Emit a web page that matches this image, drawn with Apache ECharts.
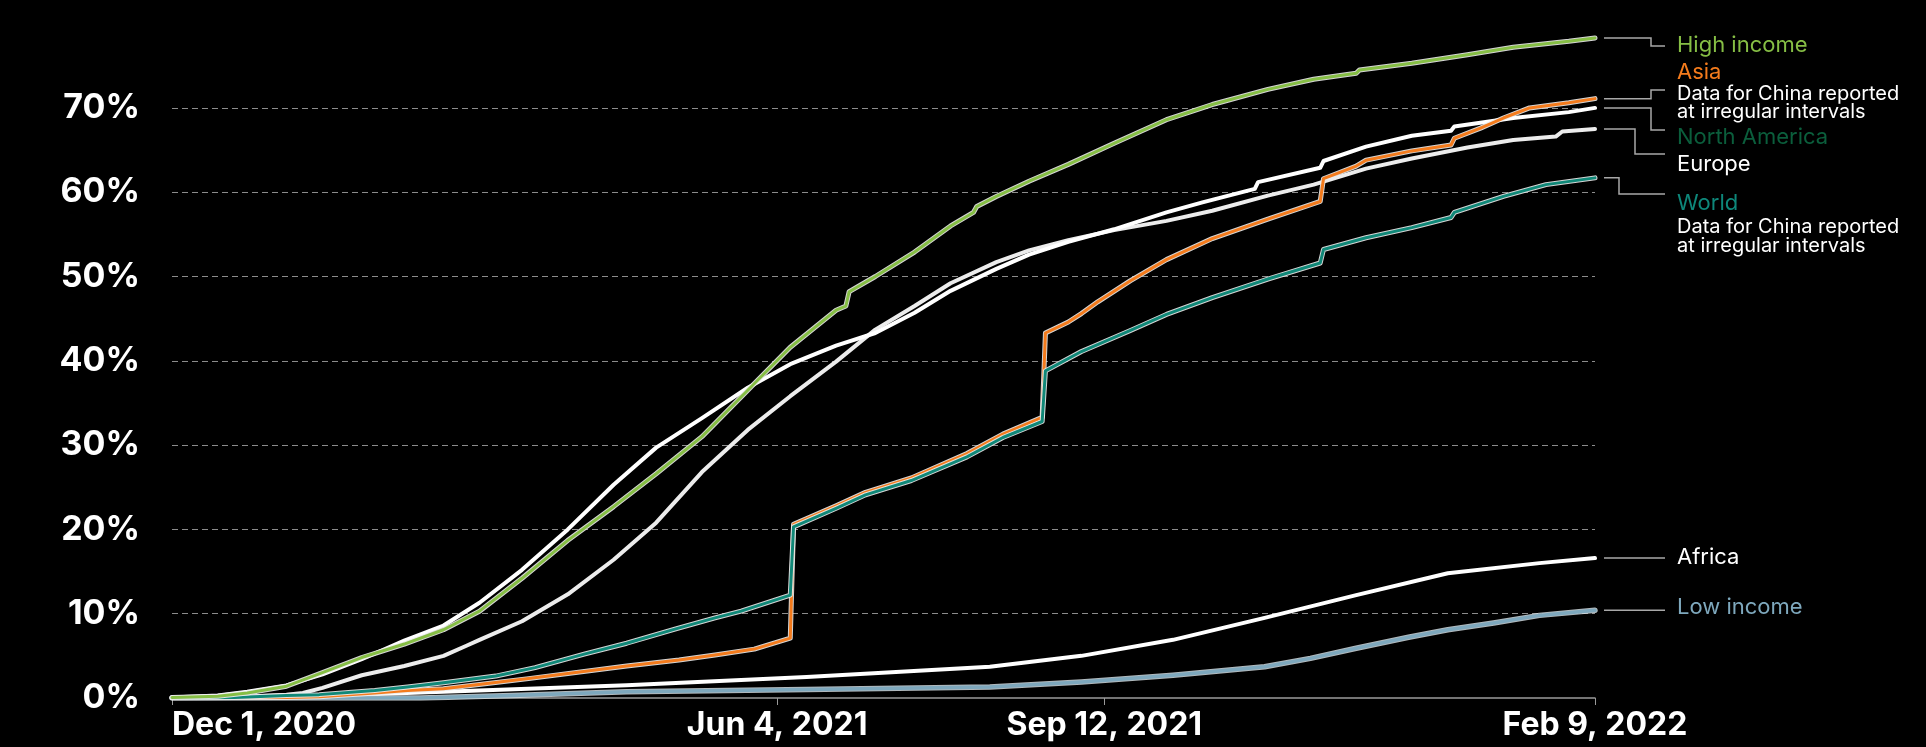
<!DOCTYPE html>
<html><head><meta charset="utf-8">
<script src="https://cdn.jsdelivr.net/npm/echarts@6/dist/echarts.min.js"></script>
<style>html,body{margin:0;padding:0;background:#000;overflow:hidden}#c{width:1926px;height:747px}</style>
</head><body><div id="c"></div>
<script>
// ---- data (date, % of population) ----
const highIncome = [['2020-12-01',0.05],['2020-12-15',0.2],['2020-12-24',0.6],['2021-01-05',1.4],['2021-01-16',3.0],['2021-01-28',4.8],['2021-02-10',6.4],['2021-02-22',8.1],['2021-03-05',10.3],['2021-03-18',14.2],['2021-04-01',18.7],['2021-04-15',22.7],['2021-04-28',26.6],['2021-05-12',31.0],['2021-05-26',36.5],['2021-06-08',41.6],['2021-06-22',46.0],['2021-06-25',46.5],['2021-06-26',48.2],['2021-07-04',50.0],['2021-07-16',52.9],['2021-07-27',56.0],['2021-08-03',57.6],['2021-08-04',58.3],['2021-08-10',59.5],['2021-08-20',61.3],['2021-09-01',63.3],['2021-09-15',65.8],['2021-10-01',68.6],['2021-10-15',70.4],['2021-11-01',72.2],['2021-11-15',73.4],['2021-11-28',74.1],['2021-11-29',74.5],['2021-12-15',75.3],['2022-01-01',76.3],['2022-01-15',77.2],['2022-02-01',77.9],['2022-02-09',78.3]];
const northAmerica = [['2020-12-01',0.05],['2020-12-15',0.3],['2020-12-24',0.75],['2021-01-05',1.5],['2021-01-16',2.8],['2021-01-28',4.6],['2021-02-10',6.8],['2021-02-22',8.6],['2021-03-05',11.3],['2021-03-18',15.2],['2021-04-01',20.0],['2021-04-15',25.3],['2021-04-28',29.7],['2021-05-12',33.2],['2021-05-26',36.8],['2021-06-08',39.6],['2021-06-22',41.8],['2021-07-04',43.3],['2021-07-16',45.7],['2021-07-27',48.3],['2021-08-10',50.9],['2021-08-20',52.6],['2021-09-01',54.1],['2021-09-15',55.6],['2021-10-01',57.6],['2021-10-12',58.8],['2021-10-28',60.4],['2021-10-29',61.2],['2021-11-17',62.9],['2021-11-18',63.7],['2021-12-01',65.4],['2021-12-15',66.7],['2021-12-27',67.3],['2021-12-28',67.8],['2022-01-15',68.8],['2022-02-01',69.5],['2022-02-09',70.0]];
const europe = [['2020-12-01',0.02],['2020-12-20',0.1],['2021-01-05',0.4],['2021-01-10',0.6],['2021-01-16',1.2],['2021-01-28',2.7],['2021-02-10',3.8],['2021-02-22',5.0],['2021-03-01',6.2],['2021-03-05',6.9],['2021-03-18',9.1],['2021-04-01',12.3],['2021-04-15',16.4],['2021-04-28',20.8],['2021-05-12',26.8],['2021-05-26',31.8],['2021-06-08',35.8],['2021-06-22',39.9],['2021-07-04',43.7],['2021-07-16',46.5],['2021-07-27',49.2],['2021-08-10',51.7],['2021-08-20',53.1],['2021-09-01',54.3],['2021-09-15',55.5],['2021-10-01',56.6],['2021-10-15',57.8],['2021-11-01',59.6],['2021-11-15',60.9],['2021-12-01',62.8],['2021-12-15',64.0],['2022-01-01',65.3],['2022-01-15',66.2],['2022-01-28',66.6],['2022-01-30',67.2],['2022-02-09',67.5]];
const asia = [['2020-12-01',0],['2021-01-05',0.05],['2021-01-15',0.15],['2021-02-01',0.6],['2021-02-11',0.9],['2021-02-22',1.1],['2021-03-20',2.3],['2021-04-19',3.8],['2021-05-05',4.5],['2021-05-16',5.1],['2021-05-28',5.8],['2021-06-08',7.1],['2021-06-09',20.6],['2021-06-22',22.8],['2021-07-01',24.4],['2021-07-15',26.1],['2021-08-01',29.0],['2021-08-12',31.3],['2021-08-24',33.3],['2021-08-25',43.3],['2021-09-01',44.6],['2021-09-05',45.6],['2021-09-10',47.0],['2021-09-20',49.5],['2021-10-01',52.0],['2021-10-15',54.5],['2021-11-01',56.8],['2021-11-17',58.9],['2021-11-18',61.6],['2021-11-28',63.1],['2021-12-01',63.8],['2021-12-15',64.9],['2021-12-27',65.6],['2021-12-28',66.4],['2022-01-05',67.6],['2022-01-12',68.8],['2022-01-20',70.0],['2022-02-01',70.6],['2022-02-09',71.1]];
const world = [['2020-12-01',0],['2020-12-20',0.05],['2021-01-05',0.3],['2021-01-15',0.4],['2021-02-01',0.9],['2021-02-11',1.3],['2021-02-22',1.8],['2021-03-10',2.6],['2021-03-22',3.6],['2021-04-06',5.2],['2021-04-19',6.5],['2021-05-04',8.2],['2021-05-16',9.5],['2021-05-24',10.3],['2021-06-08',12.2],['2021-06-09',20.3],['2021-06-22',22.5],['2021-07-01',24.1],['2021-07-15',25.8],['2021-08-01',28.6],['2021-08-12',30.9],['2021-08-24',32.8],['2021-08-25',38.8],['2021-09-05',41.1],['2021-09-20',43.6],['2021-10-01',45.5],['2021-10-15',47.5],['2021-11-01',49.7],['2021-11-17',51.6],['2021-11-18',53.2],['2021-12-01',54.6],['2021-12-15',55.8],['2021-12-27',57.0],['2021-12-28',57.6],['2022-01-12',59.5],['2022-01-25',60.9],['2022-02-09',61.7]];
const africa = [['2020-12-01',0],['2021-01-08',0.15],['2021-02-22',0.75],['2021-04-19',1.5],['2021-06-13',2.5],['2021-08-08',3.7],['2021-09-05',5.0],['2021-10-03',6.9],['2021-10-31',9.5],['2021-11-28',12.2],['2021-12-26',14.8],['2022-01-23',16.0],['2022-02-09',16.6]];
const lowIncome = [['2020-12-01',0],['2021-02-15',0],['2021-03-15',0.3],['2021-04-19',0.75],['2021-06-13',1.0],['2021-08-08',1.3],['2021-09-05',1.9],['2021-10-03',2.7],['2021-10-31',3.7],['2021-11-14',4.7],['2021-11-28',5.9],['2021-12-14',7.2],['2021-12-26',8.1],['2022-01-09',8.9],['2022-01-23',9.8],['2022-02-09',10.4]];

const xStart = '2020-12-01', xEnd = '2022-02-09';
const xTickDates = ['2020-12-01','2021-06-04','2021-09-12','2022-02-09'];
const yTicks = [0,10,20,30,40,50,60,70];
const MONTHS = ['Jan','Feb','Mar','Apr','May','Jun','Jul','Aug','Sep','Oct','Nov','Dec'];

function t(s){ const p = s.split('-').map(Number); return Date.UTC(p[0], p[1]-1, p[2]); }
function conv(arr){ return arr.map(d => [t(d[0]), d[1]]); }
function fmt(v){ const d = new Date(v); return MONTHS[d.getUTCMonth()] + ' ' + d.getUTCDate() + ', ' + d.getUTCFullYear(); }

const FONT = 'Inter, "Noto Sans", sans-serif';
const chart = echarts.init(document.getElementById('c'), null, {renderer:'canvas'});

function line(name, data, color, width, z){
  return {name, type:'line', data:conv(data), showSymbol:false, symbol:'none', z, silent:true,
          lineStyle:{color, width, join:'round', cap:'round'}, emphasis:{disabled:true}};
}
const HALO = 'rgba(235,235,235,0.9)';
const series = [
  line('Africa', africa, '#ffffff', 4, 2),
  line('Low income halo', lowIncome, 'rgba(220,230,235,0.8)', 5.5, 3),
  line('Low income', lowIncome, '#7ea8bd', 3.5, 4),
  line('Europe', europe, '#ececec', 4, 5),
  line('North America', northAmerica, '#ffffff', 4, 6),
  line('Asia halo', asia, HALO, 5, 7),
  line('Asia', asia, '#f47b1c', 3, 8),
  line('World halo', world, HALO, 5, 9),
  line('World', world, '#108878', 3, 10),
  line('High income halo', highIncome, HALO, 5, 11),
  line('High income', highIncome, '#86be45', 3, 12)
];

chart.setOption({
  backgroundColor:'#000',
  animation:false,
  grid:{left:172, right:331, top:23.6, bottom:49, containLabel:false},
  xAxis:{
    type:'value', min:t(xStart), max:t(xEnd), scale:true,
    axisLine:{show:true, onZero:false, lineStyle:{color:'#9a9a9a', width:1.5}},
    axisTick:{show:true, customValues:xTickDates.map(t), length:7, lineStyle:{color:'#9a9a9a', width:1}},
    axisLabel:{customValues:xTickDates.map(t), formatter:(v)=>fmt(v), color:'#fff', fontSize:32, fontWeight:700,
               fontFamily:FONT, margin:11, alignMinLabel:'left', showMinLabel:true, showMaxLabel:true, hideOverlap:false},
    splitLine:{show:false}
  },
  yAxis:{
    type:'value', min:0, max:80, interval:10,
    axisLine:{show:false}, axisTick:{show:false},
    axisLabel:{formatter:(v)=> yTicks.indexOf(v) >= 0 ? v + '%' : '', color:'#fff', fontSize:34, fontWeight:700,
               fontFamily:FONT, margin:32, showMaxLabel:false},
    splitLine:{show:true, showMinLine:false, showMaxLine:false, lineStyle:{color:'#8c8c8c', width:1, type:[6,4]}}
  },
  series
});

// ---- right-hand labels with elbow connectors (layout positions) ----
const labelDefs = [
  {data:highIncome, elbowX:1651, targetY:46},
  {data:asia, elbowX:1651, targetY:90},
  {data:northAmerica, elbowX:1651, targetY:130},
  {data:europe, elbowX:1635, targetY:154},
  {data:world, elbowX:1619, targetY:194},
  {data:africa, elbowX:null, targetY:null},
  {data:lowIncome, elbowX:null, targetY:null}
];
const texts = [
  {text:'High income', color:'#86be45', size:22, y:45.5},
  {text:'Asia', color:'#f47b1c', size:22, y:72},
  {text:'Data for China reported', color:'#ffffff', size:20, y:93.5},
  {text:'at irregular intervals', color:'#ffffff', size:20, y:112},
  {text:'North America', color:'#0b5e3c', size:22, y:137.5},
  {text:'Europe', color:'#ffffff', size:22, y:164},
  {text:'World', color:'#0e877a', size:22, y:203},
  {text:'Data for China reported', color:'#ffffff', size:20, y:227},
  {text:'at irregular intervals', color:'#ffffff', size:20, y:245.5},
  {text:'Africa', color:'#ffffff', size:22, y:557},
  {text:'Low income', color:'#7ea8bd', size:22, y:607}
];
const graphics = [];
labelDefs.forEach(d => {
  const last = d.data[d.data.length-1];
  const p = chart.convertToPixel({gridIndex:0}, [t(last[0]), last[1]]);
  const x0 = p[0] + 9, y0 = p[1];
  let pts;
  if (d.elbowX === null) pts = [[x0,y0],[1665,y0]];
  else pts = [[x0,y0],[d.elbowX,y0],[d.elbowX,d.targetY],[1665,d.targetY]];
  graphics.push({type:'polyline', silent:true, shape:{points:pts}, style:{stroke:'#a8a8a8', lineWidth:1.5, fill:null}});
});
texts.forEach(s => {
  graphics.push({type:'text', silent:true, x:1677, y:s.y,
    style:{text:s.text, fill:s.color, font:'400 ' + s.size + 'px ' + FONT, textAlign:'left', textVerticalAlign:'middle', verticalAlign:'middle'}});
});
chart.setOption({graphic:graphics});
</script></body></html>
